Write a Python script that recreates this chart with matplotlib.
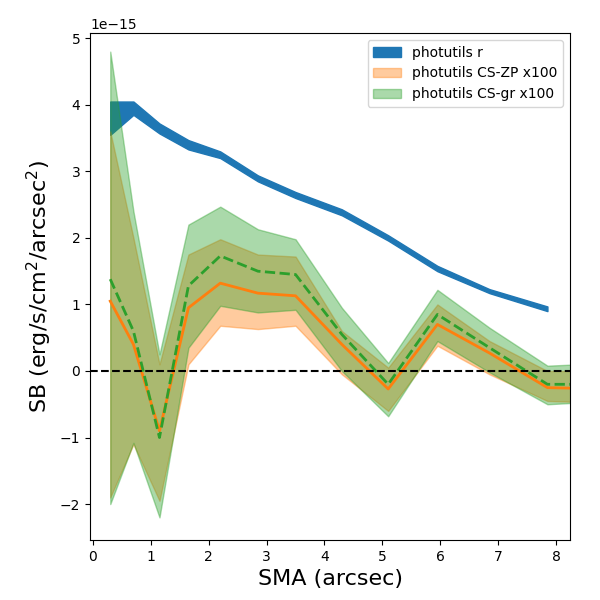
import numpy as np
import matplotlib
matplotlib.use('Agg')
import matplotlib.pyplot as plt

sma = np.array([0.3, 0.7, 1.15, 1.65, 2.2, 2.85, 3.5, 4.3, 5.1, 5.95, 6.85, 7.85, 8.9])

# photutils r band (only to 7.85)
r_hi = np.array([4.05, 4.05, 3.72, 3.47, 3.30, 2.94, 2.69, 2.43, 2.04, 1.58, 1.23, 0.97])
r_lo = np.array([3.55, 3.85, 3.57, 3.33, 3.20, 2.85, 2.60, 2.34, 1.96, 1.50, 1.17, 0.90])

zp_mid = np.array([1.05, 0.40, -0.90, 0.95, 1.32, 1.17, 1.13, 0.40, -0.27, 0.70, 0.27, -0.25, -0.27])
zp_hi = np.array([3.60, 2.00, 0.10, 1.75, 1.98, 1.75, 1.72, 0.60, 0.05, 1.00, 0.45, 0.00, 0.00])
zp_lo = np.array([-1.90, -1.10, -1.95, 0.10, 0.68, 0.63, 0.68, -0.05, -0.60, 0.38, -0.05, -0.45, -0.48])

gr_mid = np.array([1.38, 0.60, -1.00, 1.28, 1.73, 1.50, 1.45, 0.55, -0.20, 0.85, 0.35, -0.20, -0.20])
gr_hi = np.array([4.80, 2.40, 0.25, 2.20, 2.47, 2.13, 1.98, 0.95, 0.12, 1.22, 0.65, 0.08, 0.12])
gr_lo = np.array([-2.00, -1.08, -2.20, 0.35, 0.98, 0.88, 0.92, 0.00, -0.68, 0.45, -0.02, -0.50, -0.45])

scale = 1e-15

fig, ax = plt.subplots(figsize=(6, 6), dpi=100)
fig.subplots_adjust(left=0.15, right=0.95, top=0.945, bottom=0.1)

ax.fill_between(sma[:12], r_lo * scale, r_hi * scale, color='C0', label='photutils r')
ax.fill_between(sma, zp_lo * scale, zp_hi * scale, color='C1', alpha=0.4, label='photutils CS-ZP x100')
ax.plot(sma, zp_mid * scale, color='C1', lw=2)
ax.fill_between(sma, gr_lo * scale, gr_hi * scale, color='C2', alpha=0.4, label='photutils CS-gr x100')
ax.plot(sma, gr_mid * scale, color='C2', lw=2, ls='--')
ax.axhline(0, color='k', ls='--')

ax.set_xlim(-0.05, 8.24)
ax.set_ylim(-2.54e-15, 5.08e-15)
ax.set_xlabel('SMA (arcsec)', fontsize=16)
ax.set_ylabel('SB (erg/s/cm$^2$/arcsec$^2$)', fontsize=16)
ax.legend(loc='upper right')

plt.savefig('out.png')
